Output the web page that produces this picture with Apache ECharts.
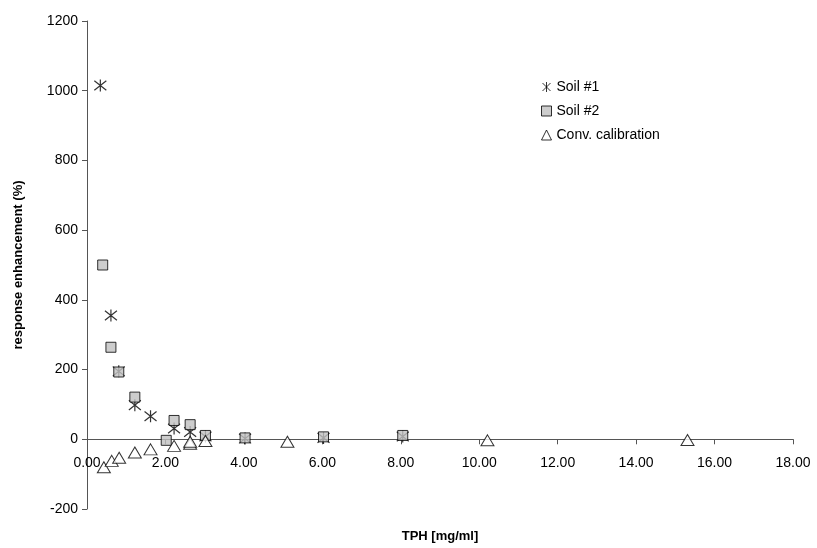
<!DOCTYPE html>
<html><head><meta charset="utf-8">
<script src="https://cdn.jsdelivr.net/npm/echarts@6/dist/echarts.min.js"></script>
<style>html,body{margin:0;padding:0;background:#fff}#c{width:817px;height:548px}</style>
</head><body><div id="c"></div>
<script>
const seriesNames = ["Soil #1", "Soil #2", "Conv. calibration"];
const soil1 = [[0.34,1015],[0.61,355],[0.81,195],[1.22,98],[1.62,66],[2.22,31],[2.63,21],[3.02,8],[4.03,2],[6.03,4],[8.05,8]];
const soil2 = [[0.40,500],[0.61,264],[0.81,193],[1.22,121],[2.02,-3],[2.22,54],[2.63,42],[3.02,11],[4.03,4],[6.03,7],[8.05,11]];
const conv = [[0.43,-80],[0.63,-62],[0.82,-53],[1.22,-38],[1.62,-29],[2.22,-19],[2.63,-13],[2.63,-7],[3.02,-5],[5.11,-7],[10.21,-3],[15.31,-2]];
const xTicks = {min:0, max:18, interval:2};
const yTicks = {min:-200, max:1200, interval:200};

const gridTop = 21, gridBottom = 39, H = 548;
const gridH = H - gridTop - gridBottom;
const zeroOffset = gridH * (0 - yTicks.min) / (yTicks.max - yTicks.min);

const star = 'path://M0,-1L0,1M-0.8,-0.8L0.8,0.8M-0.8,0.8L0.8,-0.8';
const font = 'Liberation Sans, Arial, sans-serif';
const chart = echarts.init(document.getElementById('c'));
chart.setOption({
  animation:false,
  textStyle:{fontFamily:font},
  grid:{left:87,right:24,top:gridTop,bottom:gridBottom,containLabel:false,outerBoundsMode:'none'},
  legend:{
    orient:'vertical', left:536, top:75, itemGap:10, itemWidth:10, itemHeight:10,
    textStyle:{fontFamily:font,fontSize:14,color:'#000'},
    data:[
      {name:seriesNames[0], icon:star, itemStyle:{color:'rgba(0,0,0,0)',borderColor:'#000',borderWidth:1}},
      {name:seriesNames[1], icon:'rect', itemStyle:{color:'#c0c0c0',borderColor:'#000',borderWidth:1}},
      {name:seriesNames[2], icon:'triangle', itemStyle:{color:'#fff',borderColor:'#000',borderWidth:1}}
    ]
  },
  xAxis:{
    type:'value', min:xTicks.min, max:xTicks.max, interval:xTicks.interval,
    offset:-zeroOffset,
    name:'TPH [mg/ml]', nameLocation:'middle', nameGap:91,
    nameTextStyle:{fontFamily:font,fontSize:13,fontWeight:'bold',color:'#000'},
    axisLine:{onZero:false,lineStyle:{color:'#555',width:1}},
    axisTick:{show:true,inside:false,length:5,lineStyle:{color:'#555'}},
    axisLabel:{fontFamily:font,fontSize:14,color:'#000',margin:17,formatter:v=>v.toFixed(2)},
    splitLine:{show:false}
  },
  yAxis:{
    type:'value', min:yTicks.min, max:yTicks.max, interval:yTicks.interval,
    name:'response enhancement (%)', nameLocation:'middle', nameGap:62,
    nameTextStyle:{fontFamily:font,fontSize:13,fontWeight:'bold',color:'#000'},
    axisLine:{show:true,lineStyle:{color:'#555',width:1}},
    axisTick:{show:true,length:5,lineStyle:{color:'#555'}},
    axisLabel:{fontFamily:font,fontSize:14,color:'#000',margin:9,formatter:v=>String(v)},
    splitLine:{show:false}
  },
  series:[
    {name:seriesNames[0], type:'scatter', data:soil1, symbol:star, symbolSize:12,
     itemStyle:{color:'rgba(0,0,0,0)',borderColor:'#000',borderWidth:1.2}, z:2},
    {name:seriesNames[1], type:'scatter', data:soil2, symbol:'rect', symbolSize:10,
     itemStyle:{color:'#c0c0c0',borderColor:'#000',borderWidth:1}, z:3},
    {name:seriesNames[2], type:'scatter', data:conv, symbol:'triangle', symbolSize:[13,11],
     itemStyle:{color:'#fff',borderColor:'#000',borderWidth:1}, z:4}
  ]
});
</script></body></html>
